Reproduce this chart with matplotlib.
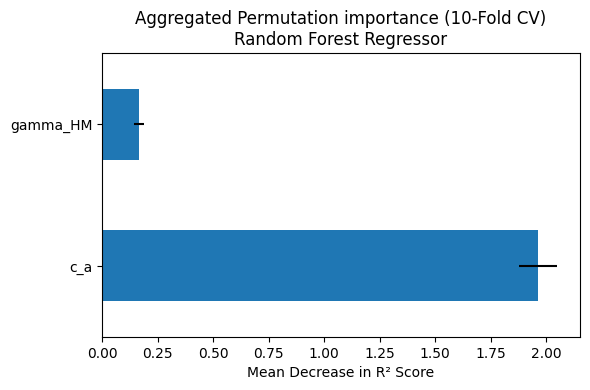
import matplotlib.pyplot as plt
import pandas as pd

features = ["c_a", "gamma_HM"]
importance_mean = [1.963, 0.167]
importance_std = [0.087, 0.024]

s = pd.Series(importance_mean, index=features)

fig, ax = plt.subplots(figsize=(5.9, 3.9), dpi=100)
s.plot.barh(xerr=importance_std, ax=ax, color="#1f77b4")
ax.set_title("Aggregated Permutation importance (10-Fold CV)\nRandom Forest Regressor")
ax.set_xlabel("Mean Decrease in R² Score")
fig.subplots_adjust(left=0.173, right=0.983, top=0.864, bottom=0.136)
fig.savefig("out.png")
